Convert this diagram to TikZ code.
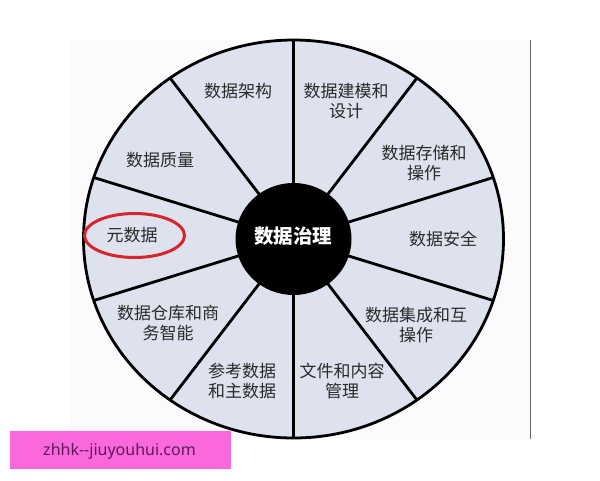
\documentclass[tikz,border=0pt]{standalone}
\usepackage{fontspec}
\newfontfamily\cjk{Noto Sans CJK SC}
\newfontfamily\wmfont{Noto Sans}
\usetikzlibrary{shapes.geometric}
\definecolor{wheelfill}{HTML}{DEE1EE}
\definecolor{bgpale}{HTML}{FBFAFD}
\definecolor{labelgray}{HTML}{2A2A2A}
\definecolor{ringred}{HTML}{D6262C}
\definecolor{wmpink}{HTML}{FA68DC}
\definecolor{wmtext}{HTML}{5A1A5E}
\begin{document}
\begin{tikzpicture}[x=1pt,y=-1pt,
  seglabel/.style={font=\cjk\fontsize{17}{20}\selectfont, text=labelgray, align=center, inner sep=0pt},
  spoke/.style={line width=2.8pt, black},
]
\useasboundingbox (0,0) rectangle (600,480);
\fill[white] (0,0) rectangle (600,480);
% pale background panel and right border line
\fill[bgpale] (69,40) rectangle (530,439);
\draw[line width=1pt, black!60] (530,40) -- (530,439);
% wheel
\def\cx{293.5}\def\cy{239}\def\rx{210}\def\ry{199}
\fill[wheelfill] (\cx,\cy) ellipse [x radius=\rx, y radius=\ry];
\foreach \a in {90,54,18,-18,-54,-90,-126,-162,162,126}{
  \draw[spoke] (\cx,\cy) -- ({\cx+\rx*cos(\a)},{\cy-\ry*sin(\a)});
}
\draw[line width=2.8pt, black] (\cx,\cy) ellipse [x radius=\rx, y radius=\ry];
\node[ellipse, fill=black, minimum width=116pt, minimum height=112pt, inner sep=0pt] (hub) at (\cx,\cy) {};
\node[font=\cjk\bfseries\fontsize{19.5}{22}\selectfont, text=white, inner sep=0pt] (hubtext) at (293,236) {数据治理};
% segment labels
\node[seglabel] (arch) at (238,91) {数据架构};
\node[seglabel] (model) at (346,101) {数据建模和\\设计};
\node[seglabel] (store) at (424,163) {数据存储和\\操作};
\node[seglabel] (sec) at (443,239) {数据安全};
\node[seglabel] (integ) at (416,325) {数据集成和互\\操作};
\node[seglabel] (doc) at (342,381) {文件和内容\\管理};
\node[seglabel] (ref) at (242,381) {参考数据\\和主数据};
\node[seglabel] (dw) at (168,323) {数据仓库和商\\务智能};
\node[seglabel] (meta) at (132,235) {元数据};
\node[seglabel] (qual) at (160,160) {数据质量};
% red highlight ring
\node[ellipse, draw=ringred, line width=3pt, minimum width=100pt, minimum height=44pt, inner sep=0pt] (ring) at (134.5,235.5) {};
% watermark
\node[fill=wmpink, minimum width=221pt, minimum height=38pt, inner sep=0pt, anchor=north west] (wm) at (10,431) {};
\node[font=\wmfont\fontsize{16}{18}\selectfont, text=wmtext, inner sep=0pt] (wmt) at (119.5,451) {zhhk\mbox{-}\mbox{-}jiuyouhui.com};
\end{tikzpicture}
\end{document}
